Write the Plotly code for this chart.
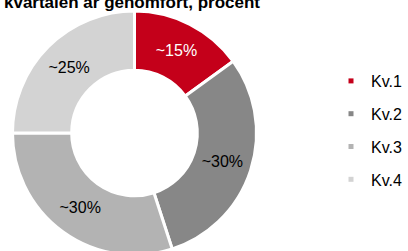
import plotly.graph_objects as go

W, H = 408, 262

categories = ["Kv.1", "Kv.2", "Kv.3", "Kv.4"]
values = [15, 30, 30, 25]
colors = ["#C4001A", "#878787", "#B3B3B3", "#D3D3D3"]
text_colors = ["#FFFFFF", "#000000", "#000000", "#000000"]
title_text = "Andel av årsvolymen när kvartalen är genomfört, procent"

def px_x(p):
    return p / W

def px_y(p):
    return 1 - p / H

fig = go.Figure()

fig.add_trace(go.Pie(
    labels=categories,
    values=values,
    sort=False,
    direction="clockwise",
    rotation=0,
    hole=0.515,
    marker=dict(colors=colors, line=dict(color="#FFFFFF", width=3)),
    texttemplate="~%{value}%",
    textinfo="text",
    textposition="inside",
    insidetextorientation="horizontal",
    insidetextfont=dict(family="Arial, Liberation Sans", size=16, color=text_colors),
    showlegend=False,
    domain=dict(x=[px_x(12.5), px_x(256.5)], y=[px_y(255), px_y(11)]),
    hoverinfo="skip",
))

for i, (c, col) in enumerate(zip(categories, colors)):
    fig.add_trace(go.Scatter(
        x=[None], y=[None], mode="markers", name=c,
        marker=dict(symbol="square", size=5, color=col),
        legendgroup=c, showlegend=True,
    ))

fig.add_annotation(
    text="<b>" + title_text + "</b>",
    xref="paper", yref="paper",
    x=px_x(262), y=px_y(2),
    xanchor="right", yanchor="middle",
    showarrow=False,
    font=dict(family="Arial, Liberation Sans", size=17, color="#000000"),
)

fig.update_layout(
    width=W, height=H,
    margin=dict(l=0, r=0, t=0, b=0),
    paper_bgcolor="#FFFFFF",
    plot_bgcolor="#FFFFFF",
    xaxis=dict(visible=False),
    yaxis=dict(visible=False),
    showlegend=True,
    legend=dict(
        x=px_x(331), y=px_y(64), xanchor="left", yanchor="top",
        font=dict(family="Arial, Liberation Sans", size=16, color="#000000"),
        tracegroupgap=9,
        itemwidth=30,
        bgcolor="rgba(0,0,0,0)",
    ),
)

fig.write_html(
    "out.html",
    config={"displayModeBar": False},
    post_script="document.body.style.margin='0';document.body.style.overflow='hidden';",
)
